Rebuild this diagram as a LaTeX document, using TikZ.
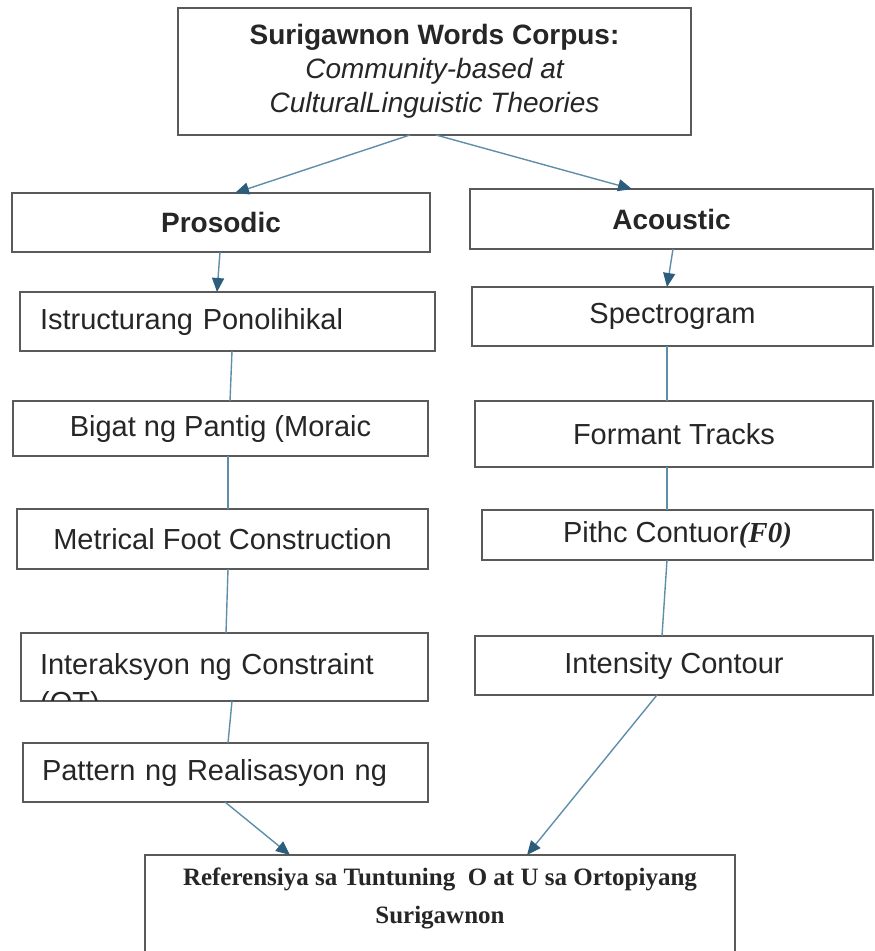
\documentclass[tikz,border=0pt]{standalone}
\usepackage{fontspec}
\setmainfont{Liberation Sans}
\newfontfamily\serifb{Liberation Serif}
\usetikzlibrary{arrows.meta}
\definecolor{boxc}{HTML}{5A5A5A}
\definecolor{linec}{HTML}{5F8EAA}
\definecolor{arrowc}{HTML}{2C5D7C}
\tikzset{
  box/.style={draw=boxc, line width=2pt, inner sep=0pt, outer sep=0pt, text=black!85,
    font=\fontsize{29}{34}\selectfont},
  conn/.style={draw=linec, line width=1.4pt},
  arr/.style={conn, -{Triangle[length=14pt,width=12pt,color=arrowc]}},
}
\begin{document}
\begin{tikzpicture}[x=1pt,y=-1pt]
\clip (0,0) rectangle (875,951);
\fill[white] (0,0) rectangle (875,951);

% top
\node[box, minimum width=513pt, minimum height=127pt, align=center, font=\fontsize{28}{34}\selectfont]
  (top) at (434.5,71.5) {{\bfseries Surigawnon Words Corpus:}\\{\itshape Community-based at}\\{\itshape CulturalLinguistic Theories}};

% level 1
\node[box, minimum width=418pt, minimum height=59pt, font=\fontsize{28}{34}\selectfont\bfseries] (pros) at (221,222.5) {Prosodic};
\node[box, minimum width=403pt, minimum height=60pt, font=\fontsize{28}{34}\selectfont\bfseries] (acou) at (671.5,219) {Acoustic};

% left column
\node[box, minimum width=415pt, minimum height=59pt, text width=375pt, align=left] (istr) at (227.5,321.5) {Istructurang Ponolihikal};
\node[box, minimum width=415pt, minimum height=55pt] (bigat) at (220.5,428.5) {Bigat ng Pantig (Moraic};
\node[box, minimum width=411pt, minimum height=60pt] (metr) at (222.5,539) {Metrical Foot Construction};
\node[box, minimum width=407pt, minimum height=68pt, text width=369pt, align=left] (int) at (224.5,667) {Interaksyon ng Constraint};
\begin{scope}
  \clip ([shift={(1pt,-1pt)}]int.north west) rectangle ([shift={(-1pt,1pt)}]int.south east);
  \node[anchor=base west, inner sep=0pt, text=black!85, font=\fontsize{29}{34}\selectfont] (ot) at (40,712) {(OT)};
\end{scope}
\node[box, minimum width=405pt, minimum height=59pt, text width=367pt, align=left] (patt) at (225.5,772.5) {Pattern ng Realisasyon ng};

% right column
\node[box, minimum width=401pt, minimum height=59pt] (spec) at (672.5,316.5) {Spectrogram};
\node[box, minimum width=398pt, minimum height=66pt] (form) at (674,434) {Formant Tracks};
\node[box, minimum width=391pt, minimum height=50pt] (pith) at (677.5,535) {Pithc Contuor{\serifb\bfseries\itshape(F0)}};
\node[box, minimum width=398pt, minimum height=59pt] (inte) at (674,665.5) {Intensity Contour};

% bottom
\node[box, minimum width=590pt, minimum height=110pt] (ref) at (440,910) {};
\node[inner sep=0pt, align=center, text=black!85, font=\serifb\bfseries\fontsize{25}{38}\selectfont] (reft) at (440,898)
  {Referensiya sa Tuntuning\ \ O at U sa Ortopiyang\\Surigawnon};

% connectors
\draw[arr] ([xshift=-24.5pt]top.south) -- ([xshift=14pt]pros.north);
\draw[arr] ([xshift=1.5pt]top.south) -- ([xshift=-39.5pt]acou.north);
\draw[arr] ([xshift=-1pt]pros.south) -- ([xshift=-10.5pt]istr.north);
\draw[arr] ([xshift=1.5pt]acou.south) -- ([xshift=-5.5pt]spec.north);
\draw[conn] ([xshift=4.5pt]istr.south) -- ([xshift=9.5pt]bigat.north);
\draw[conn] ([xshift=-5.5pt]spec.south) -- ([xshift=-7pt]form.north);
\draw[conn] ([xshift=7.5pt]bigat.south) -- ([xshift=5.5pt]metr.north);
\draw[conn] ([xshift=-7pt]form.south) -- ([xshift=-10.5pt]pith.north);
\draw[conn] ([xshift=5.5pt]metr.south) -- ([xshift=1.5pt]int.north);
\draw[conn] ([xshift=-10.5pt]pith.south) -- ([xshift=-12pt]inte.north);
\draw[conn] ([xshift=7.5pt]int.south) -- ([xshift=2.5pt]patt.north);
\draw[arr] ([xshift=-0.5pt]patt.south) -- ([xshift=-150pt]ref.north);
\draw[arr] ([xshift=-17pt]inte.south) -- ([xshift=87pt]ref.north);
\end{tikzpicture}
\end{document}
